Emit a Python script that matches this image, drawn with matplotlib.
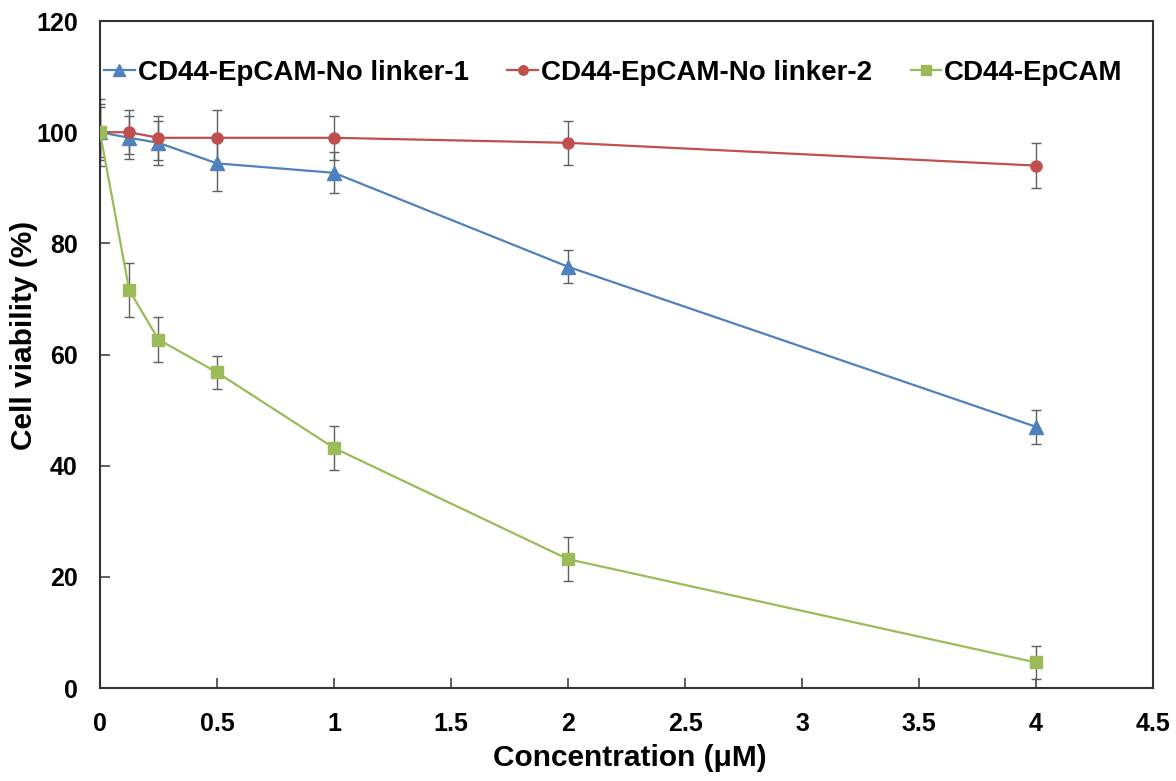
import matplotlib
matplotlib.use("Agg")
import matplotlib.pyplot as plt
import numpy as np

# data
conc = [0, 0.125, 0.25, 0.5, 1, 2, 4]

nolinker1 = [100, 99.0, 98.1, 94.4, 92.7, 75.8, 47.0]
nolinker1_err = [6.0, 3.9, 4.0, 5.0, 3.7, 3.0, 3.0]

nolinker2 = [100, 100.0, 99.0, 99.0, 99.0, 98.1, 94.0]
nolinker2_err = [4.5, 4.0, 4.0, 5.0, 4.0, 4.0, 4.0]

epcam = [100, 71.6, 62.7, 56.8, 43.2, 23.2, 4.6]
epcam_err = [5.0, 4.9, 4.0, 3.0, 4.0, 4.0, 3.0]

labels = ["CD44-EpCAM-No linker-1", "CD44-EpCAM-No linker-2", "CD44-EpCAM"]

plt.rcParams['font.family'] = ['Liberation Sans', 'DejaVu Sans']
plt.rcParams['font.weight'] = 'bold'

fig = plt.figure(figsize=(11.76, 7.81), dpi=100)
ax = fig.add_axes([0.085, 0.119, 0.8955, 0.854])

series = [
    (nolinker1, nolinker1_err, '#4F81BD', '^', 9.5),
    (nolinker2, nolinker2_err, '#C0504D', 'o', 8),
    (epcam, epcam_err, '#9BBB59', 's', 8.5),
]
for (vals, err, col, mk, ms), lab in zip(series, labels):
    ax.errorbar(conc, vals, yerr=err, fmt='none', ecolor='#5f5f5f',
                elinewidth=1.0, capsize=3.3, capthick=1.0, zorder=2)
    ax.plot(conc, vals, color=col, marker=mk, markersize=ms, linewidth=1.6,
            label=lab, zorder=3)

ax.set_xlim(0, 4.5)
ax.set_ylim(0, 120)
ax.set_xticks(np.arange(0, 4.51, 0.5))
ax.set_xticklabels(['0', '0.5', '1', '1.5', '2', '2.5', '3', '3.5', '4', '4.5'])
ax.set_yticks(np.arange(0, 121, 20))
ax.tick_params(direction='in', length=7, width=1.2, labelsize=18,
               color='#444444')
ax.tick_params(axis='x', pad=17)
ax.tick_params(axis='y', pad=16)
for lbl in ax.get_xticklabels() + ax.get_yticklabels():
    lbl.set_fontweight('bold')
for sp in ax.spines.values():
    sp.set_linewidth(1.5)
    sp.set_color('#333333')

ax.set_xlabel('Concentration (μM)', fontsize=21.5, fontweight='bold')
ax.set_ylabel('Cell viability (%)', fontsize=21.5, fontweight='bold')
ax.xaxis.set_label_coords(0.503, -0.084)
ax.yaxis.set_label_coords(-0.059, 0.529)

leg = ax.legend(loc='center left', bbox_to_anchor=(0.004, 0.922), ncol=3,
                frameon=False, fontsize=20, handlelength=1.1,
                handletextpad=0.1, columnspacing=1.4, markerscale=0.85,
                borderpad=0, borderaxespad=0)
for t in leg.get_texts():
    t.set_fontweight('bold')

fig.savefig('out.png', dpi=100)
